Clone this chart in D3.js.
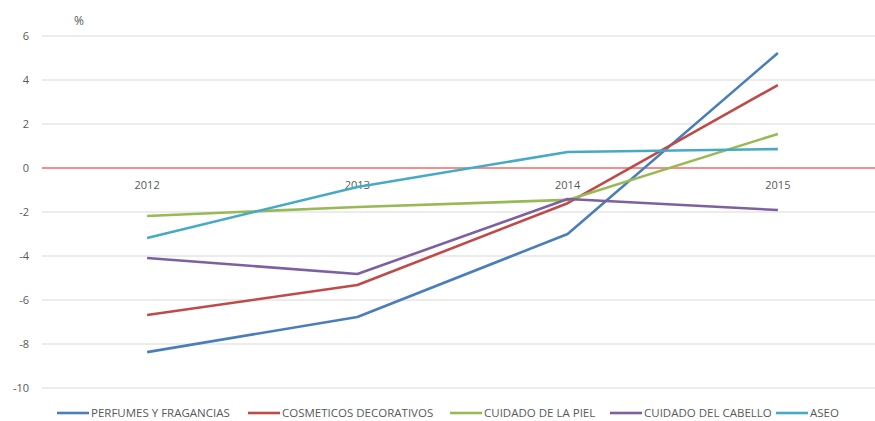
<!DOCTYPE html>
<html>
<head>
<meta charset="utf-8">
<script src="https://cdn.jsdelivr.net/npm/d3@7"></script>
<style>
  body { margin: 0; background: #fff; }
  text { font-family: "Open Sans", "Liberation Sans", sans-serif; fill: #595959; }
</style>
</head>
<body>
<svg id="chart" width="875" height="421"></svg>
<script>
var years = ["2012", "2013", "2014", "2015"];
var yTicks = [6, 4, 2, 0, -2, -4, -6, -8, -10];

var perfumes   = [-8.37, -6.77, -3.0, 5.23];
var cosmeticos = [-6.68, -5.32, -1.6, 3.77];
var piel       = [-2.18, -1.77, -1.45, 1.55];
var cabello    = [-4.09, -4.82, -1.41, -1.91];
var aseo       = [-3.18, -0.86, 0.73, 0.86];

var seriesNames = ["PERFUMES Y FRAGANCIAS", "COSMETICOS DECORATIVOS", "CUIDADO DE LA PIEL", "CUIDADO DEL CABELLO", "ASEO"];
var seriesColors = ["#4a7ebb", "#be4b48", "#98b954", "#7d60a0", "#46aac5"];
var seriesValues = [perfumes, cosmeticos, piel, cabello, aseo];

var svg = d3.select("#chart");

var x = d3.scalePoint()
    .domain(years)
    .range([42, 883])
    .padding(0.5);

var y = d3.scaleLinear()
    .domain([-10, 6])
    .range([388, 36]);

// gridlines
svg.append("g")
    .selectAll("line")
    .data(yTicks.filter(function(d) { return d != 0; }))
    .enter()
    .append("line")
    .attr("x1", 42)
    .attr("x2", 875)
    .attr("y1", function(d) { return y(d); })
    .attr("y2", function(d) { return y(d); })
    .attr("stroke", "#d9d9d9")
    .attr("stroke-width", 1);

// y tick labels
svg.append("g")
    .selectAll("text")
    .data(yTicks)
    .enter()
    .append("text")
    .attr("x", 29)
    .attr("y", function(d) { return y(d); })
    .attr("dy", "0.35em")
    .attr("text-anchor", "end")
    .style("font-size", "11px")
    .text(function(d) { return d; });

svg.append("text")
    .attr("x", 79)
    .attr("y", 25)
    .attr("text-anchor", "middle")
    .style("font-size", "12px")
    .text("%");

// zero line
svg.append("line")
    .attr("x1", 42)
    .attr("x2", 875)
    .attr("y1", y(0))
    .attr("y2", y(0))
    .attr("stroke", "#ee1c1c")
    .attr("stroke-width", 1);

// category labels just under zero
svg.append("g")
    .selectAll("text")
    .data(years)
    .enter()
    .append("text")
    .attr("x", function(d) { return x(d); })
    .attr("y", y(0) + 21)
    .attr("text-anchor", "middle")
    .style("font-size", "11px")
    .text(function(d) { return d; });

var line = d3.line()
    .x(function(d, i) { return x(years[i]); })
    .y(function(d) { return y(d); });

svg.append("g")
    .selectAll("path")
    .data(seriesValues)
    .enter()
    .append("path")
    .attr("d", line)
    .attr("fill", "none")
    .attr("stroke", function(d, i) { return seriesColors[i]; })
    .attr("stroke-width", 2.6)
    .attr("stroke-linejoin", "round");

// legend
var legendX = [57, 248, 450, 610, 776];
var legend = svg.append("g")
    .selectAll("g")
    .data(seriesNames)
    .enter()
    .append("g")
    .attr("transform", function(d, i) { return "translate(" + legendX[i] + ",413)"; });

legend.append("line")
    .attr("x1", 0)
    .attr("x2", 32)
    .attr("y1", 0)
    .attr("y2", 0)
    .attr("stroke", function(d, i) { return seriesColors[i]; })
    .attr("stroke-width", 2.6);

legend.append("text")
    .attr("x", 34)
    .attr("y", 0)
    .attr("dy", "0.35em")
    .style("font-size", "11.5px")
    .text(function(d) { return d; });
</script>
</body>
</html>
